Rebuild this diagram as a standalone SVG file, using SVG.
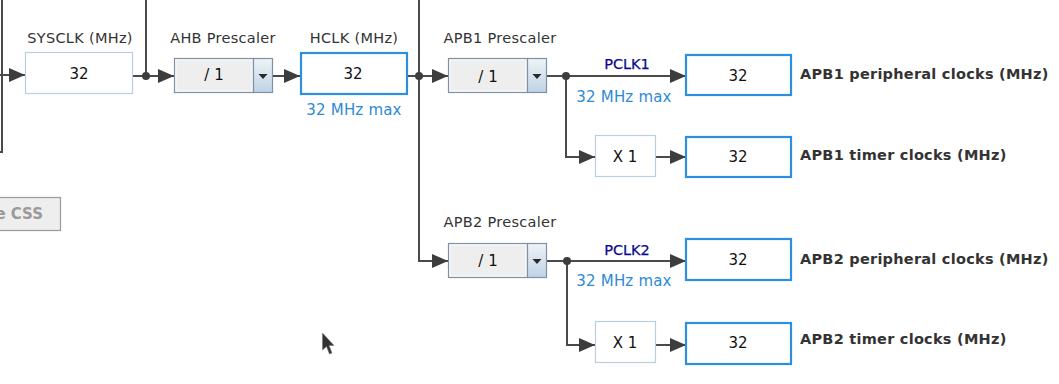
<svg xmlns="http://www.w3.org/2000/svg" width="1059" height="384" viewBox="0 0 1059 384">
<defs>
<marker id="ah" markerUnits="userSpaceOnUse" markerWidth="18" markerHeight="15" refX="16" refY="7" orient="auto">
<path d="M0,0 L16,7 L0,14 z" fill="#3d3d3d"/>
</marker>
<linearGradient id="dd" x1="0" y1="0" x2="0" y2="1">
<stop offset="0" stop-color="#eef3f8"/>
<stop offset="1" stop-color="#bfd3e6"/>
</linearGradient>
<style>
text{font-family:"DejaVu Sans","Liberation Sans",sans-serif;}
.lbl{font-size:14.5px;fill:#333;text-anchor:middle;letter-spacing:0.3px;}
.val{font-size:15px;fill:#111;text-anchor:middle;}
.max{font-size:15px;fill:#2e8ad6;text-anchor:middle;letter-spacing:0.2px;}
.pclk{font-size:14.5px;fill:#0a0a8a;text-anchor:middle;stroke:#0a0a8a;stroke-width:0.25px;}
.out{font-size:14.5px;font-weight:bold;fill:#333;letter-spacing:0.25px;}
.box{fill:#fff;stroke:#b9cfdc;stroke-width:1.2;}
.hbox{fill:#fff;stroke:#2e8ee0;stroke-width:2.2;}
.pre{fill:#eeeeee;stroke:#7f91a6;stroke-width:1.2;}
.ddp{fill:url(#dd);stroke:#7f91a6;stroke-width:1.2;}
.wire{fill:none;stroke:#4a4a4a;stroke-width:2;}
.arr{fill:none;stroke:#4a4a4a;stroke-width:2;marker-end:url(#ah);}
.dot{fill:#3d3d3d;}
</style>
</defs>
<rect width="1059" height="384" fill="#ffffff"/>

<g id="connectors">
<path class="wire" d="M2,0 V152 H0"/>
<path class="arr" d="M0,75 H25"/>
<path class="wire" d="M146,0 V76"/>
<path class="arr" d="M133,76 H174"/>
<path class="arr" d="M273,76 H300"/>
<path class="arr" d="M407,76 H448"/>
<path class="arr" d="M419,0 V261 H448"/>
<path class="arr" d="M547,76 H686"/>
<path class="arr" d="M566,76 V157 H595"/>
<path class="arr" d="M656,157 H686"/>
<path class="arr" d="M547,261 H686"/>
<path class="arr" d="M567,261 V345 H595"/>
<path class="arr" d="M656,345 H686"/>
<circle class="dot" cx="146" cy="76" r="4"/>
<circle class="dot" cx="419" cy="76" r="4"/>
<circle class="dot" cx="566" cy="76" r="4"/>
<circle class="dot" cx="567" cy="261" r="4"/>
</g>

<g id="sysclk">
<text class="lbl" x="80" y="43">SYSCLK (MHz)</text>
<rect class="box" x="25.5" y="52.5" width="107" height="41"/>
<text class="val" x="79" y="79">32</text>
</g>

<g id="ahb-prescaler">
<text class="lbl" x="223" y="43">AHB Prescaler</text>
<rect class="pre" x="174.5" y="58.5" width="79" height="34"/>
<rect x="176" y="60" width="76" height="31" fill="none" stroke="#fafafa" stroke-width="1"/>
<rect class="ddp" x="253.5" y="58.5" width="19" height="34"/>
<path d="M258.5,74 L267.5,74 L263,79 z" fill="#2a2a2a"/>
<text class="val" x="214" y="80" fill="#333">/ 1</text>
</g>

<g id="hclk">
<text class="lbl" x="354" y="43">HCLK (MHz)</text>
<rect class="hbox" x="301" y="53" width="106" height="41"/>
<text class="val" x="353" y="79">32</text>
<text class="max" x="354" y="115">32 MHz max</text>
</g>

<g id="apb1-prescaler">
<text class="lbl" x="500" y="43">APB1 Prescaler</text>
<rect class="pre" x="448.5" y="58.5" width="79" height="34"/>
<rect x="450" y="60" width="76" height="31" fill="none" stroke="#fafafa" stroke-width="1"/>
<rect class="ddp" x="527.5" y="58.5" width="19" height="34"/>
<path d="M532.5,74 L541.5,74 L537,79 z" fill="#2a2a2a"/>
<text class="val" x="488" y="82" fill="#333">/ 1</text>
</g>

<g id="pclk1-label">
<text class="pclk" x="627" y="69">PCLK1</text>
<text class="max" x="624" y="102">32 MHz max</text>
</g>

<g id="apb1-x1">
<rect class="box" x="595.5" y="135.5" width="60" height="41"/>
<text class="val" x="625" y="162" fill="#333">X 1</text>
</g>

<g id="apb1-periph">
<rect class="hbox" x="686" y="55" width="105" height="40"/>
<text class="val" x="738" y="81">32</text>
<text class="out" x="800" y="79">APB1 peripheral clocks (MHz)</text>
</g>

<g id="apb1-timer">
<rect class="hbox" x="686" y="137" width="105" height="40"/>
<text class="val" x="738" y="162">32</text>
<text class="out" x="800" y="160">APB1 timer clocks (MHz)</text>
</g>

<g id="apb2-prescaler">
<text class="lbl" x="500" y="227">APB2 Prescaler</text>
<rect class="pre" x="448.5" y="243.5" width="79" height="34"/>
<rect x="450" y="245" width="76" height="31" fill="none" stroke="#fafafa" stroke-width="1"/>
<rect class="ddp" x="527.5" y="243.5" width="19" height="34"/>
<path d="M532.5,259 L541.5,259 L537,264 z" fill="#2a2a2a"/>
<text class="val" x="488" y="266" fill="#333">/ 1</text>
</g>

<g id="pclk2-label">
<text class="pclk" x="627" y="255">PCLK2</text>
<text class="max" x="624" y="286">32 MHz max</text>
</g>

<g id="apb2-x1">
<rect class="box" x="595.5" y="321.5" width="60" height="41"/>
<text class="val" x="625" y="348" fill="#333">X 1</text>
</g>

<g id="apb2-periph">
<rect class="hbox" x="686" y="239" width="105" height="41"/>
<text class="val" x="738" y="265">32</text>
<text class="out" x="800" y="264">APB2 peripheral clocks (MHz)</text>
</g>

<g id="apb2-timer">
<rect class="hbox" x="686" y="323" width="105" height="41"/>
<text class="val" x="738" y="348">32</text>
<text class="out" x="800" y="344">APB2 timer clocks (MHz)</text>
</g>

<g id="css-button">
<rect x="-5" y="197.5" width="65.5" height="33" fill="#eeeeee" stroke="#9a9a9a" stroke-width="1.2"/>
<text x="43" y="219" font-size="15" font-weight="bold" fill="#9a9a9a" text-anchor="end">e CSS</text>
</g>

<g id="cursor">
<path d="M322.5,333 L322.5,350 L326.5,346.5 L329.5,354 L332,353 L329,345.5 L334,345.5 z" fill="#333" stroke="#777" stroke-width="0.6"/>
</g>
</svg>
